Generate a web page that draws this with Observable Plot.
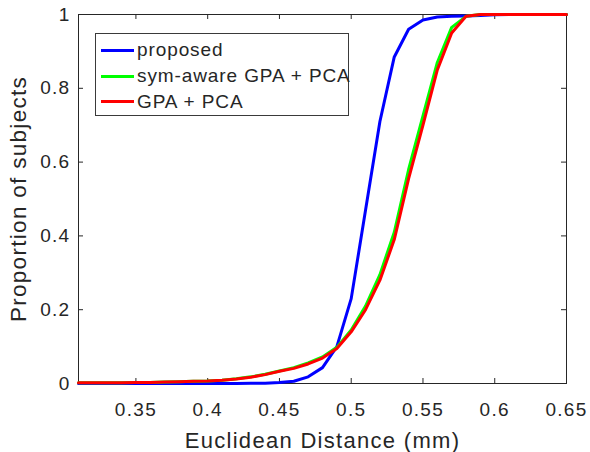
<!DOCTYPE html>
<html>
<head>
<meta charset="utf-8">
<script src="https://cdn.jsdelivr.net/npm/d3@7"></script>
<script src="https://cdn.jsdelivr.net/npm/@observablehq/plot@0.6"></script>
<style>
  body { margin: 0; background: #fff; }
  #wrap { position: relative; width: 590px; height: 452px; font-family: "Liberation Sans", Arial, sans-serif; color: #262626; }
  #wrap svg text { letter-spacing: 1.3px; }
  .legend { position: absolute; left: 95px; top: 33px; width: 252px; height: 81px; border: 1px solid #3a3a3a; background: #fff; }
  .legend .row { position: absolute; left: 5px; height: 26px; display: flex; align-items: center; white-space: nowrap; }
  .legend .sw { display: inline-block; width: 33px; height: 3px; }
  .legend .lab { margin-left: 3px; font-size: 19px; letter-spacing: 0.9px; color: #262626; }
</style>
</head>
<body>
<div id="wrap"></div>
<script>
// ---- data ----
const xs = [0.31,0.32,0.33,0.34,0.35,0.36,0.37,0.38,0.39,0.40,0.41,0.42,0.43,0.44,0.45,0.46,0.47,0.48,0.49,0.50,0.51,0.52,0.53,0.54,0.55,0.56,0.57,0.58,0.59,0.60,0.61,0.62,0.63,0.64,0.65];
const proposed = [0,0,0,0,0,0,0,0,0,0,0,0,0.001,0.001,0.003,0.006,0.018,0.043,0.10,0.23,0.47,0.71,0.885,0.96,0.985,0.993,0.995,0.996,0.997,0.999,1,1,1,1,1];
const symAware = [0.002,0.002,0.002,0.002,0.003,0.003,0.004,0.005,0.006,0.007,0.009,0.013,0.018,0.025,0.034,0.043,0.056,0.072,0.098,0.145,0.21,0.295,0.41,0.58,0.725,0.87,0.965,0.995,1,1,1,1,1,1,1];
const gpaPca   = [0.002,0.002,0.002,0.002,0.003,0.003,0.004,0.005,0.006,0.007,0.009,0.012,0.017,0.024,0.033,0.041,0.053,0.069,0.095,0.14,0.20,0.28,0.39,0.555,0.70,0.85,0.95,0.995,1,1,1,1,1,1,1];
const seriesNames = ["proposed", "sym-aware GPA + PCA", "GPA + PCA"];
const seriesColors = ["#0000ff", "#00ff00", "#ff0000"];
const xTicks = [0.35,0.4,0.45,0.5,0.55,0.6,0.65];
const xTickLabels = ["0.35","0.4","0.45","0.5","0.55","0.6","0.65"];
const yTicks = [0,0.2,0.4,0.6,0.8,1];
const yTickLabels = ["0","0.2","0.4","0.6","0.8","1"];
const xLabel = "Euclidean Distance (mm)";
const yLabel = "Proportion of subjects";

const seriesValues = [proposed, symAware, gpaPca];
const rows = [];
seriesValues.forEach((vals, s) => xs.forEach((x, i) => rows.push({x, y: vals[i], series: seriesNames[s]})));

const W = 590, H = 452, mL = 78, mR = 24, mT = 14, mB = 69;
const ph = H - mT - mB, pw = W - mL - mR;
const tickLen = 5;
const axisColor = "#262626";

const plot = Plot.plot({
  width: W, height: H,
  marginLeft: mL, marginRight: mR, marginTop: mT, marginBottom: mB,
  x: {domain: [0.31, 0.65]},
  y: {domain: [0, 1]},
  color: {domain: seriesNames, range: seriesColors},
  style: {fontFamily: "'Liberation Sans', Arial, sans-serif", color: axisColor, background: "#fff", overflow: "visible"},
  marks: [
    Plot.frame({stroke: axisColor, strokeWidth: 1}),
    // inward ticks on all four sides
    Plot.tickX(xTicks, {x: d => d, insetTop: ph - tickLen, stroke: axisColor}),
    Plot.tickX(xTicks, {x: d => d, insetBottom: ph - tickLen, stroke: axisColor}),
    Plot.tickY(yTicks, {y: d => d, insetRight: pw - tickLen, stroke: axisColor}),
    Plot.tickY(yTicks, {y: d => d, insetLeft: pw - tickLen, stroke: axisColor}),
    Plot.axisX(xTicks, {tickSize: 0, tickPadding: 19, fontSize: 19, fill: axisColor, label: null,
      tickFormat: d => xTickLabels[xTicks.indexOf(d)]}),
    Plot.axisY(yTicks, {tickSize: 0, tickPadding: 8, fontSize: 19, fill: axisColor, label: null,
      tickFormat: d => yTickLabels[yTicks.indexOf(d)]}),
    Plot.text([xLabel], {text: d => d, frameAnchor: "bottom", dy: 57, textAnchor: "middle", lineAnchor: "middle", fontSize: 22, fill: axisColor}),
    Plot.text([yLabel], {text: d => d, frameAnchor: "left", dx: -59.5, rotate: -90, textAnchor: "middle", lineAnchor: "middle", fontSize: 22.5, fill: axisColor}),
    Plot.line(rows, {x: "x", y: "y", z: "series", stroke: "series", strokeWidth: 3, strokeLinejoin: "round"})
  ]
});

const wrap = document.getElementById("wrap");
wrap.appendChild(plot);

// legend (HTML overlay inside the axes, top-left)
const legend = document.createElement("div");
legend.className = "legend";
const centers = [16.3, 42, 67.7];
seriesNames.forEach((name, i) => {
  const row = document.createElement("div");
  row.className = "row";
  row.style.top = (centers[i] - 13) + "px";
  const sw = document.createElement("span");
  sw.className = "sw";
  sw.style.background = seriesColors[i];
  const lab = document.createElement("span");
  lab.className = "lab";
  lab.textContent = name;
  row.appendChild(sw);
  row.appendChild(lab);
  legend.appendChild(row);
});
wrap.appendChild(legend);
</script>
</body>
</html>
